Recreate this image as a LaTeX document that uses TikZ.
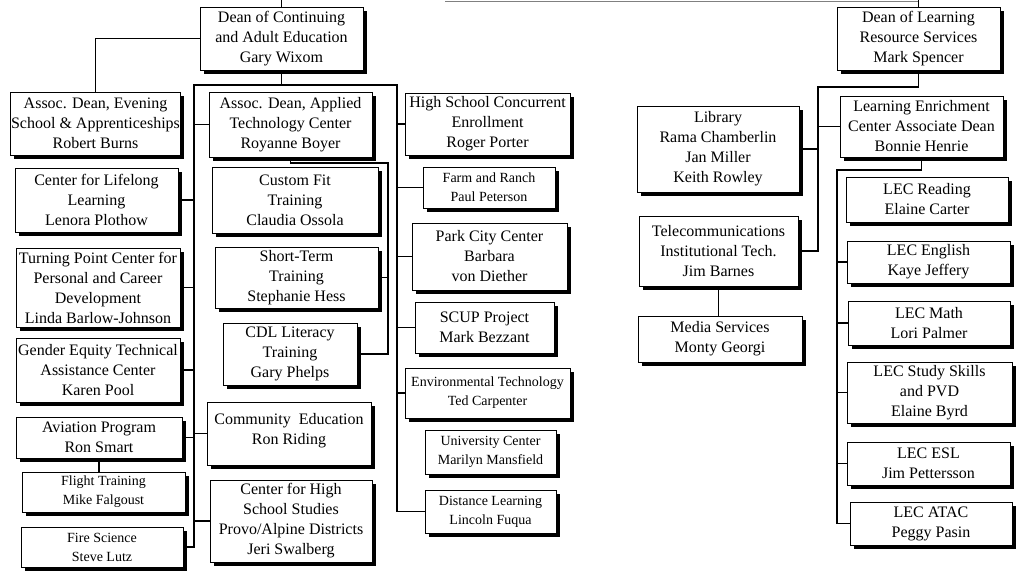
\documentclass[tikz,border=0pt]{standalone}
\usepackage{fontspec}
\setmainfont{Liberation Serif}
\usetikzlibrary{shadows}
\begin{document}
\begin{tikzpicture}[x=1pt,y=-1pt,
  box/.style={draw, line width=1pt, fill=white, align=center, inner sep=1pt,
    font=\fontsize{16}{20}\selectfont,
    drop shadow={shadow xshift=3.5pt, shadow yshift=-3.5pt, fill=black, opacity=1}},
  sbox/.style={box, font=\fontsize{14}{19}\selectfont},
  conn/.style={line width=1.1pt, line cap=rect},
]
\useasboundingbox (0,0) rectangle (1021,571);

% ---------- left division ----------
\node[box, minimum width=163, minimum height=63] (dc) at (281.5,38.5) {Dean of Continuing\\and Adult Education\\Gary Wixom};
\node[box, minimum width=163, minimum height=63] (aev) at (95.5,123.5) {Assoc. Dean, Evening\\School \& Apprenticeships\\Robert Burns};
\node[box, minimum width=163, minimum height=65] (adapp) at (290.5,124.5) {Assoc. Dean, Applied\\Technology Center\\Royanne Boyer};
\node[box, minimum width=163, minimum height=64] (cll) at (96.5,200) {Center for Lifelong\\Learning\\Lenora Plothow};
\node[box, minimum width=164, minimum height=79] (tp) at (98,287.5) {Turning Point Center for\\Personal and Career\\Development\\Linda Barlow-Johnson};
\node[box, minimum width=164, minimum height=64] (ge) at (98,370) {Gender Equity Technical\\Assistance Center\\Karen Pool};
\node[box, minimum width=166, minimum height=41] (av) at (99,437.5) {Aviation Program\\Ron Smart};
\node[sbox, minimum width=163, minimum height=40] (ft) at (103.5,492) {Flight Training\\Mike Falgoust};
\node[sbox, minimum width=162, minimum height=40] (fs) at (102,547) {Fire Science\\Steve Lutz};

\node[box, minimum width=166, minimum height=66] (cf) at (295,200) {Custom Fit\\Training\\Claudia Ossola};
\node[box, minimum width=163, minimum height=61] (st) at (296.5,277.5) {Short-Term\\Training\\Stephanie Hess};
\node[box, minimum width=134, minimum height=62] (cdl) at (290,354) {CDL Literacy\\Training\\Gary Phelps};
\node[box, minimum width=164, minimum height=63, text depth=10pt] (ce) at (289,433.5) {Community\ \ Education\\Ron Riding};
\node[box, minimum width=162, minimum height=82] (cshs) at (291,521) {Center for High\\School Studies\\Provo/Alpine Districts\\Jeri Swalberg};

\node[box, minimum width=165, minimum height=62] (hsc) at (487.5,124) {High School Concurrent\\Enrollment\\Roger Porter};
\node[sbox, minimum width=132, minimum height=41] (farm) at (489,187.5) {Farm and Ranch\\Paul Peterson};
\node[box, minimum width=155, minimum height=67] (park) at (489.5,256.5) {Park City Center\\Barbara\\von Diether};
\node[box, minimum width=139, minimum height=51] (scup) at (484.5,327.5) {SCUP Project\\Mark Bezzant};
\node[sbox, minimum width=165, minimum height=50] (env) at (487.5,393) {Environmental Technology\\Ted Carpenter};
\node[sbox, minimum width=131, minimum height=44] (uc) at (490.5,452) {University Center\\Marilyn Mansfield};
\node[sbox, minimum width=131, minimum height=43] (dl) at (490.5,511.5) {Distance Learning\\Lincoln Fuqua};

% ---------- right division ----------
\node[box, minimum width=163, minimum height=63] (dlrs) at (918.5,38.5) {Dean of Learning\\Resource Services\\Mark Spencer};
\node[box, minimum width=162, minimum height=86] (lib) at (718,149) {Library\\Rama Chamberlin\\Jan Miller\\Keith Rowley};
\node[box, minimum width=163, minimum height=61] (lec) at (921.5,126.5) {Learning Enrichment\\Center Associate Dean\\Bonnie Henrie};
\node[box, minimum width=159, minimum height=70] (tel) at (718.5,251) {Telecommunications\\Institutional Tech.\\Jim Barnes};
\node[box, minimum width=164, minimum height=46] (media) at (720,339) {Media Services\\Monty Georgi};
\node[box, minimum width=162, minimum height=45] (read) at (927,199.5) {LEC Reading\\Elaine Carter};
\node[box, minimum width=163, minimum height=42] (eng) at (928.5,262) {LEC English\\Kaye Jeffery};
\node[box, minimum width=162, minimum height=44] (math) at (929,323) {LEC Math\\Lori Palmer};
\node[box, minimum width=165, minimum height=61] (study) at (929.5,392.5) {LEC Study Skills\\and PVD\\Elaine Byrd};
\node[box, minimum width=163, minimum height=43] (esl) at (928.5,463.5) {LEC ESL\\Jim Pettersson};
\node[box, minimum width=162, minimum height=43] (atac) at (931,523.5) {LEC ATAC\\Peggy Pasin};

% ---------- coordinates ----------
\coordinate (topL) at (281.5,0);
\coordinate (topR) at (918.5,0);
\coordinate (grayA) at (445,1.5);
\coordinate (grayB) at (918.5,1.5);
\coordinate (busL) at (194,85);
\coordinate (busR) at (397,85);
\coordinate (atcTop) at (388,163);
\coordinate (rb) at (818,87);
\coordinate (lb) at (837,170);

% ---------- connectors ----------
\draw[line width=1.4pt, gray] (grayA) -- (grayB);
\draw[conn] (topL) -- (dc.north);
\draw[conn] (topR) -- (dlrs.north);

\draw[conn] (dc.west) -| (aev.north);
\draw[conn] (dc.south) -- (dc.south |- busL);
\draw[conn] (busL) -- (busR);
\draw[conn] (busL) |- (fs.east);
\draw[conn] (cll.east) -- (cll.east -| busL);
\draw[conn] (tp.east) -- (tp.east -| busL);
\draw[conn] (ge.east) -- (ge.east -| busL);
\draw[conn] (av.east) -- (av.east -| busL);
\draw[conn] (adapp.west) -- (adapp.west -| busL);
\draw[conn] (ce.west) -- (ce.west -| busL);
\draw[conn] (cshs.west) -- (cshs.west -| busL);
\draw[conn] (av.south) -- (av.south |- ft.north);

\draw[conn] (adapp.south) |- (atcTop) |- (cdl.east);
\draw[conn] (st.east) -- (st.east -| atcTop);

\draw[conn] (busR) |- (dl.west);
\draw[conn] (hsc.west) -- (hsc.west -| busR);
\draw[conn] (farm.west) -- (farm.west -| busR);
\draw[conn] (park.west) -- (park.west -| busR);
\draw[conn] (scup.west) -- (scup.west -| busR);
\draw[conn] (env.west) -- (env.west -| busR);

\draw[conn] (dlrs.south) |- (rb) |- (tel.east);
\draw[conn] (lib.east) -- (lib.east -| rb);
\draw[conn] (lec.west) -- (lec.west -| rb);
\draw[conn] (tel.south) -- (tel.south |- media.north);

\draw[conn] (lec.south) |- (lb) |- (atac.west);
\draw[conn] (eng.west) -- (eng.west -| lb);
\draw[conn] (math.west) -- (math.west -| lb);
\draw[conn] (study.west) -- (study.west -| lb);
\draw[conn] (esl.west) -- (esl.west -| lb);
\end{tikzpicture}
\end{document}
